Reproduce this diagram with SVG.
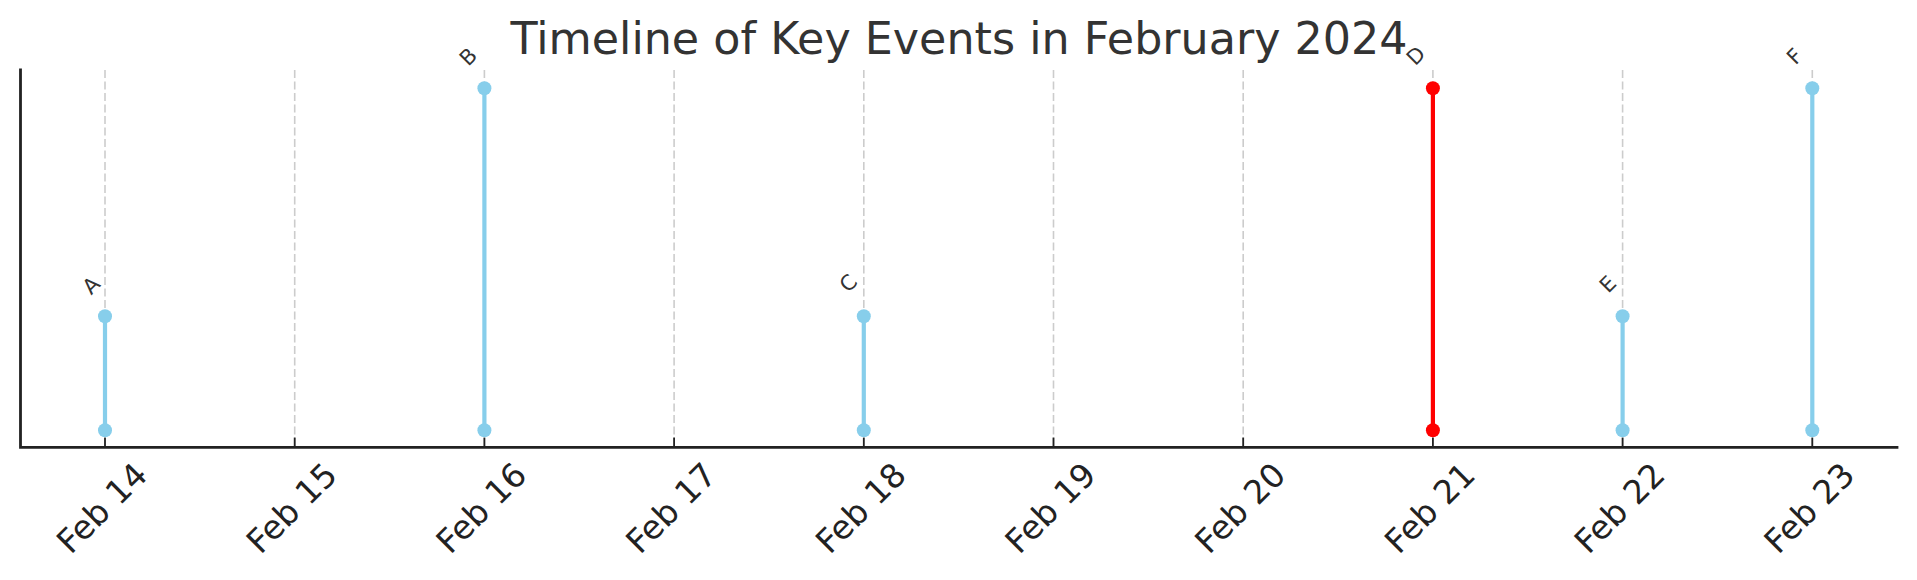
<svg xmlns="http://www.w3.org/2000/svg" width="1917" height="580" viewBox="0 0 1917 580">
<style>
text{font-family:"DejaVu Sans","Liberation Sans",sans-serif}
.grid line{stroke:#cccccc;stroke-width:1.6;stroke-dasharray:8 3.5}
.spine{stroke:#222222;stroke-width:2.8;fill:none;stroke-linecap:square}
.tick{stroke:#222222;stroke-width:1.8}
.tl{font-size:33px;fill:#222222;text-anchor:middle}
.stem{stroke:#87CEEB;stroke-width:4.2}
.dot{fill:#87CEEB}
.stem.hi{stroke:#FF0000}
.dot.hi{fill:#FF0000}
.lab{font-size:21px;fill:#333333;text-anchor:middle}
.title{font-size:44.4px;fill:#333333;text-anchor:middle}
</style>
<rect width="1917" height="580" fill="#ffffff"/>
<text class="title" x="959" y="54">Timeline of Key Events in February 2024</text>
<g id="grid" class="grid">
<line x1="105" y1="70" x2="105" y2="447"/>
<line x1="294.7" y1="70" x2="294.7" y2="447"/>
<line x1="484.4" y1="70" x2="484.4" y2="447"/>
<line x1="674.1" y1="70" x2="674.1" y2="447"/>
<line x1="863.8" y1="70" x2="863.8" y2="447"/>
<line x1="1053.5" y1="70" x2="1053.5" y2="447"/>
<line x1="1243.2" y1="70" x2="1243.2" y2="447"/>
<line x1="1432.9" y1="70" x2="1432.9" y2="447"/>
<line x1="1622.6" y1="70" x2="1622.6" y2="447"/>
<line x1="1812.3" y1="70" x2="1812.3" y2="447"/>
</g>
<g id="axes">
<path class="spine" d="M20.5 70 V447.3 H1897"/>
<g class="tick">
<line x1="105" y1="437.5" x2="105" y2="447"/>
<line x1="294.7" y1="437.5" x2="294.7" y2="447"/>
<line x1="484.4" y1="437.5" x2="484.4" y2="447"/>
<line x1="674.1" y1="437.5" x2="674.1" y2="447"/>
<line x1="863.8" y1="437.5" x2="863.8" y2="447"/>
<line x1="1053.5" y1="437.5" x2="1053.5" y2="447"/>
<line x1="1243.2" y1="437.5" x2="1243.2" y2="447"/>
<line x1="1432.9" y1="437.5" x2="1432.9" y2="447"/>
<line x1="1622.6" y1="437.5" x2="1622.6" y2="447"/>
<line x1="1812.3" y1="437.5" x2="1812.3" y2="447"/>
</g>
<text class="tl" x="110.1" y="516.1" transform="rotate(-45 110.1 516.1)">Feb 14</text>
<text class="tl" x="299.8" y="516.1" transform="rotate(-45 299.8 516.1)">Feb 15</text>
<text class="tl" x="489.5" y="516.1" transform="rotate(-45 489.5 516.1)">Feb 16</text>
<text class="tl" x="679.2" y="516.1" transform="rotate(-45 679.2 516.1)">Feb 17</text>
<text class="tl" x="868.9" y="516.1" transform="rotate(-45 868.9 516.1)">Feb 18</text>
<text class="tl" x="1058.6" y="516.1" transform="rotate(-45 1058.6 516.1)">Feb 19</text>
<text class="tl" x="1248.3" y="516.1" transform="rotate(-45 1248.3 516.1)">Feb 20</text>
<text class="tl" x="1438" y="516.1" transform="rotate(-45 1438 516.1)">Feb 21</text>
<text class="tl" x="1627.7" y="516.1" transform="rotate(-45 1627.7 516.1)">Feb 22</text>
<text class="tl" x="1817.4" y="516.1" transform="rotate(-45 1817.4 516.1)">Feb 23</text>
</g>
<g id="connectors">
<line class="stem" x1="105" y1="430.3" x2="105" y2="316.3"/>
<line class="stem" x1="484.4" y1="430.3" x2="484.4" y2="88.3"/>
<line class="stem" x1="863.8" y1="430.3" x2="863.8" y2="316.3"/>
<line class="stem hi" x1="1432.9" y1="430.3" x2="1432.9" y2="88.3"/>
<line class="stem" x1="1622.6" y1="430.3" x2="1622.6" y2="316.3"/>
<line class="stem" x1="1812.3" y1="430.3" x2="1812.3" y2="88.3"/>
</g>
<g id="event-A">
<circle class="dot" cx="105" cy="430.3" r="7"/>
<circle class="dot" cx="105" cy="316.3" r="7"/>
<text class="lab" x="96.4" y="290.4" transform="rotate(-45 96.4 290.4)">A</text>
</g>
<g id="event-B">
<circle class="dot" cx="484.4" cy="430.3" r="7"/>
<circle class="dot" cx="484.4" cy="88.3" r="7"/>
<text class="lab" x="473.4" y="61.9" transform="rotate(-45 473.4 61.9)">B</text>
</g>
<g id="event-C">
<circle class="dot" cx="863.8" cy="430.3" r="7"/>
<circle class="dot" cx="863.8" cy="316.3" r="7"/>
<text class="lab" x="853.4" y="288.4" transform="rotate(-45 853.4 288.4)">C</text>
</g>
<g id="event-D">
<circle class="dot hi" cx="1432.9" cy="430.3" r="7"/>
<circle class="dot hi" cx="1432.9" cy="88.3" r="7"/>
<text class="lab" x="1420.9" y="60.9" transform="rotate(-45 1420.9 60.9)">D</text>
</g>
<g id="event-E">
<circle class="dot" cx="1622.6" cy="430.3" r="7"/>
<circle class="dot" cx="1622.6" cy="316.3" r="7"/>
<text class="lab" x="1612.9" y="289.4" transform="rotate(-45 1612.9 289.4)">E</text>
</g>
<g id="event-F">
<circle class="dot" cx="1812.3" cy="430.3" r="7"/>
<circle class="dot" cx="1812.3" cy="88.3" r="7"/>
<text class="lab" x="1799.9" y="61.4" transform="rotate(-45 1799.9 61.4)">F</text>
</g>
</svg>
